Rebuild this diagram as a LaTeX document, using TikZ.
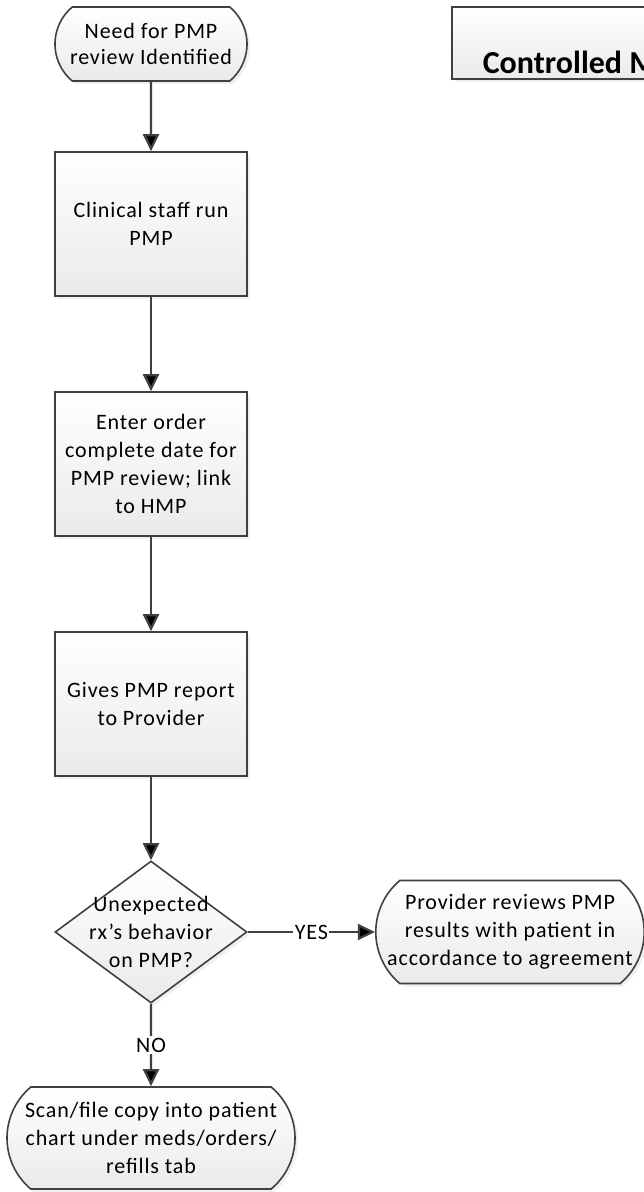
\documentclass[tikz,border=0pt]{standalone}
\usepackage{fontspec}
\setmainfont{Carlito}[LetterSpace=4]
\newfontfamily\titlefont{Carlito}
\usetikzlibrary{positioning, shapes.geometric, shapes.misc, arrows.meta, shadows}

\definecolor{edgegray}{HTML}{404040}
\definecolor{fillgray}{HTML}{EAEAEA}

\tikzset{
  shape base/.style={draw=edgegray, line width=1.6pt, top color=white, bottom color=fillgray,
    drop shadow={shadow xshift=3pt, shadow yshift=-3pt, opacity=0.12},
    font=\fontsize{22}{28}\selectfont, align=center, inner sep=0pt},
  terminal/.style={shape base, rounded rectangle, rounded rectangle arc length=100},
  process/.style={shape base, rectangle, minimum width=192pt, minimum height=144pt},
  decision/.style={shape base, diamond, minimum width=192pt, minimum height=142pt},
  dtext/.style={font=\fontsize{22}{28}\selectfont, align=center, inner sep=0pt},
  titlebox/.style={shape base, rectangle, anchor=south west, font=\titlefont\bfseries\fontsize{32}{38}\selectfont,
    text height=66pt, text depth=6pt, inner xsep=31pt, inner ysep=0pt},
  flow/.style={draw=edgegray, line width=2.2pt, -{Triangle[length=17pt, width=16pt]}},
  answer/.style={fill=white, inner sep=1.5pt, font=\fontsize{22}{28}\selectfont}
}

\begin{document}
\begin{tikzpicture}[on grid]
  \useasboundingbox (0,0) rectangle (643pt,-1192pt);

  \node[titlebox] (title) at (451pt,-80pt) {Controlled M};

  \node[terminal, minimum width=192pt, minimum height=74pt] (need) at (151pt,-44pt)
    {Need for PMP\\[-2pt]review Identified};
  \node[process] (runpmp) [below=180pt of need] {Clinical staff run\\PMP};
  \node[process] (order) [below=240pt of runpmp] {Enter order\\complete date for\\PMP review; link\\to HMP};
  \node[process] (report) [below=240pt of order] {Gives PMP report\\to Provider};
  \node[decision, label={[dtext]center:Unexpected\\rx’s behavior\\on PMP?}] (unexp) [below=228pt of report] {};
  \node[terminal, minimum width=266pt, minimum height=103pt] (review) [right=359pt of unexp]
    {Provider reviews PMP\\results with patient in\\accordance to agreement};
  \node[terminal, minimum width=288pt, minimum height=102pt] (scan) [below=206pt of unexp]
    {Scan/file copy into patient\\chart under meds/orders/\\refills tab};

  \path[flow]
    (need) edge (runpmp)
    (runpmp) edge (order)
    (order) edge (report)
    (report) edge (unexp)
    (unexp) edge node[answer] {YES} (review)
            edge node[answer] {NO} (scan);
\end{tikzpicture}
\end{document}
